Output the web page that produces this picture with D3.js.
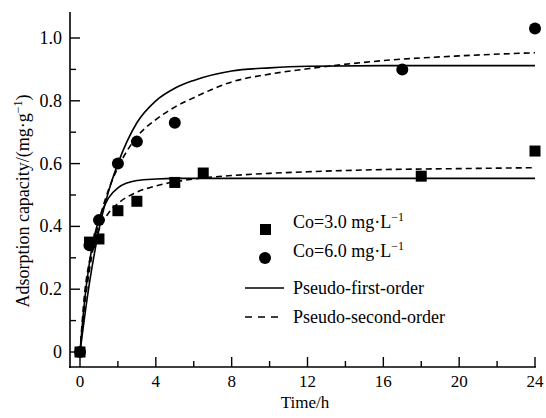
<!DOCTYPE html>
<html>
<head>
<meta charset="UTF-8">
<title>Adsorption kinetics</title>
<script src="https://d3js.org/d3.v7.min.js"></script>
<style>
  body { margin: 0; background: #fff; }
  svg text { font-family: "Liberation Serif", "Times New Roman", Times, Tinos, "Nimbus Roman", "DejaVu Serif", "Noto Serif", serif; }
</style>
</head>
<body>
<script>
var w = 546, h = 418;

// measured points
var time3 = [0, 0.5, 1, 2, 3, 5, 6.5, 18, 24];
var q3 = [0, 0.35, 0.36, 0.45, 0.48, 0.54, 0.57, 0.56, 0.64];
var time6 = [0, 0.5, 1, 2, 3, 5, 17, 24];
var q6 = [0, 0.34, 0.42, 0.60, 0.67, 0.73, 0.90, 1.03];

// fitted curves
var fitTime = [0, 0.25, 0.5, 0.75, 1, 1.5, 2, 3, 4, 5, 6, 8, 10, 12, 16, 20, 24];
var first3 = [0, 0.168, 0.285, 0.367, 0.423, 0.49, 0.523, 0.546, 0.551, 0.553, 0.553, 0.553, 0.553, 0.553, 0.553, 0.553, 0.553];
var second3 = [0, 0.19, 0.289, 0.349, 0.39, 0.442, 0.473, 0.509, 0.529, 0.542, 0.551, 0.562, 0.569, 0.574, 0.581, 0.584, 0.587];
var first6 = [0, 0.115, 0.22, 0.31, 0.39, 0.51, 0.60, 0.73, 0.80, 0.84, 0.865, 0.895, 0.905, 0.91, 0.912, 0.912, 0.912];
var second6 = [0, 0.151, 0.262, 0.347, 0.415, 0.516, 0.587, 0.685, 0.74, 0.78, 0.81, 0.86, 0.885, 0.902, 0.928, 0.943, 0.953];

var xTicks = [0, 4, 8, 12, 16, 20, 24];
var yTicks = [0, 0.2, 0.4, 0.6, 0.8, 1.0];

var x = d3.scaleLinear().domain([0, 24]).range([80, 535]);
var y = d3.scaleLinear().domain([0, 1]).range([352, 38]);

var svg = d3.select("body").append("svg")
    .attr("width", w)
    .attr("height", h);

// axes lines
svg.append("line").attr("x1", 70).attr("x2", 70).attr("y1", 12).attr("y2", 368)
    .attr("stroke", "#000").attr("stroke-width", 1.6);
svg.append("line").attr("x1", 69).attr("x2", 536).attr("y1", 367).attr("y2", 367)
    .attr("stroke", "#000").attr("stroke-width", 1.6);

// x ticks (inward)
svg.selectAll(".xt").data(d3.range(0, 25, 2)).enter().append("line")
    .attr("x1", function(d){return x(d);}).attr("x2", function(d){return x(d);})
    .attr("y1", 367).attr("y2", function(d){return d % 4 == 0 ? 357 : 361;})
    .attr("stroke", "#000").attr("stroke-width", 1.4);
svg.selectAll(".xl").data(xTicks).enter().append("text")
    .attr("x", function(d){return x(d);}).attr("y", 387)
    .attr("text-anchor", "middle").attr("font-size", 17)
    .text(function(d){return d;});

// y ticks
svg.selectAll(".yt").data(d3.range(0, 11)).enter().append("line")
    .attr("x1", 70).attr("x2", function(d){return d % 2 == 0 ? 80 : 76;})
    .attr("y1", function(d){return y(d / 10);}).attr("y2", function(d){return y(d / 10);})
    .attr("stroke", "#000").attr("stroke-width", 1.4);
svg.selectAll(".yl").data(yTicks).enter().append("text")
    .attr("x", 62).attr("y", function(d){return y(d) + 6;})
    .attr("text-anchor", "end").attr("font-size", 18)
    .text(function(d){return d == 0 ? "0" : d3.format(".1f")(d);});

// axis titles
svg.append("text").attr("x", 305).attr("y", 408)
    .attr("text-anchor", "middle").attr("font-size", 17).text("Time/h");
var yl = svg.append("text")
    .attr("transform", "translate(29,201) rotate(-90)")
    .attr("text-anchor", "middle").attr("font-size", 18);
yl.append("tspan").text("Adsorption capacity/(mg\u00b7g");
yl.append("tspan").attr("dy", -7).attr("font-size", 12).text("\u22121");
yl.append("tspan").attr("dy", 7).text(")");

// curves
var line = d3.line()
    .x(function(d){return x(d[0]);})
    .y(function(d){return y(d[1]);})
    .curve(d3.curveMonotoneX);

function pairs(ts, qs) { return ts.map(function(t, i){return [t, qs[i]];}); }

[first3, first6].forEach(function(s){
    svg.append("path").attr("d", line(pairs(fitTime, s)))
        .attr("fill", "none").attr("stroke", "#000").attr("stroke-width", 1.6);
});
[second3, second6].forEach(function(s){
    svg.append("path").attr("d", line(pairs(fitTime, s)))
        .attr("fill", "none").attr("stroke", "#000").attr("stroke-width", 1.6)
        .attr("stroke-dasharray", "6,4");
});

// points
svg.selectAll(".sq").data(pairs(time3, q3)).enter().append("rect")
    .attr("x", function(d){return x(d[0]) - 5.5;})
    .attr("y", function(d){return y(d[1]) - 5.5;})
    .attr("width", 11).attr("height", 11).attr("fill", "#000");
svg.selectAll(".ci").data(pairs(time6, q6)).enter().append("circle")
    .attr("cx", function(d){return x(d[0]);})
    .attr("cy", function(d){return y(d[1]);})
    .attr("r", 6).attr("fill", "#000");

// legend
var lg = svg.append("g");
lg.append("rect").attr("x", 260).attr("y", 224).attr("width", 11).attr("height", 11).attr("fill", "#000");
lg.append("circle").attr("cx", 265).attr("cy", 258).attr("r", 6).attr("fill", "#000");
lg.append("line").attr("x1", 245).attr("x2", 284).attr("y1", 288).attr("y2", 288)
    .attr("stroke", "#000").attr("stroke-width", 1.6);
lg.append("line").attr("x1", 245).attr("x2", 284).attr("y1", 317).attr("y2", 317)
    .attr("stroke", "#000").attr("stroke-width", 1.6).attr("stroke-dasharray", "7,6");

var labels = [["Co=3.0 mg\u00b7L", "\u22121", 228], ["Co=6.0 mg\u00b7L", "\u22121", 257]];
labels.forEach(function(l){
    var t = lg.append("text").attr("x", 293).attr("y", l[2]).attr("font-size", 18);
    t.append("tspan").text(l[0]);
    t.append("tspan").attr("dy", -7).attr("font-size", 12).text(l[1]);
});
lg.append("text").attr("x", 293).attr("y", 294).attr("font-size", 18).text("Pseudo-first-order");
lg.append("text").attr("x", 293).attr("y", 323).attr("font-size", 18).text("Pseudo-second-order");
</script>
</body>
</html>
